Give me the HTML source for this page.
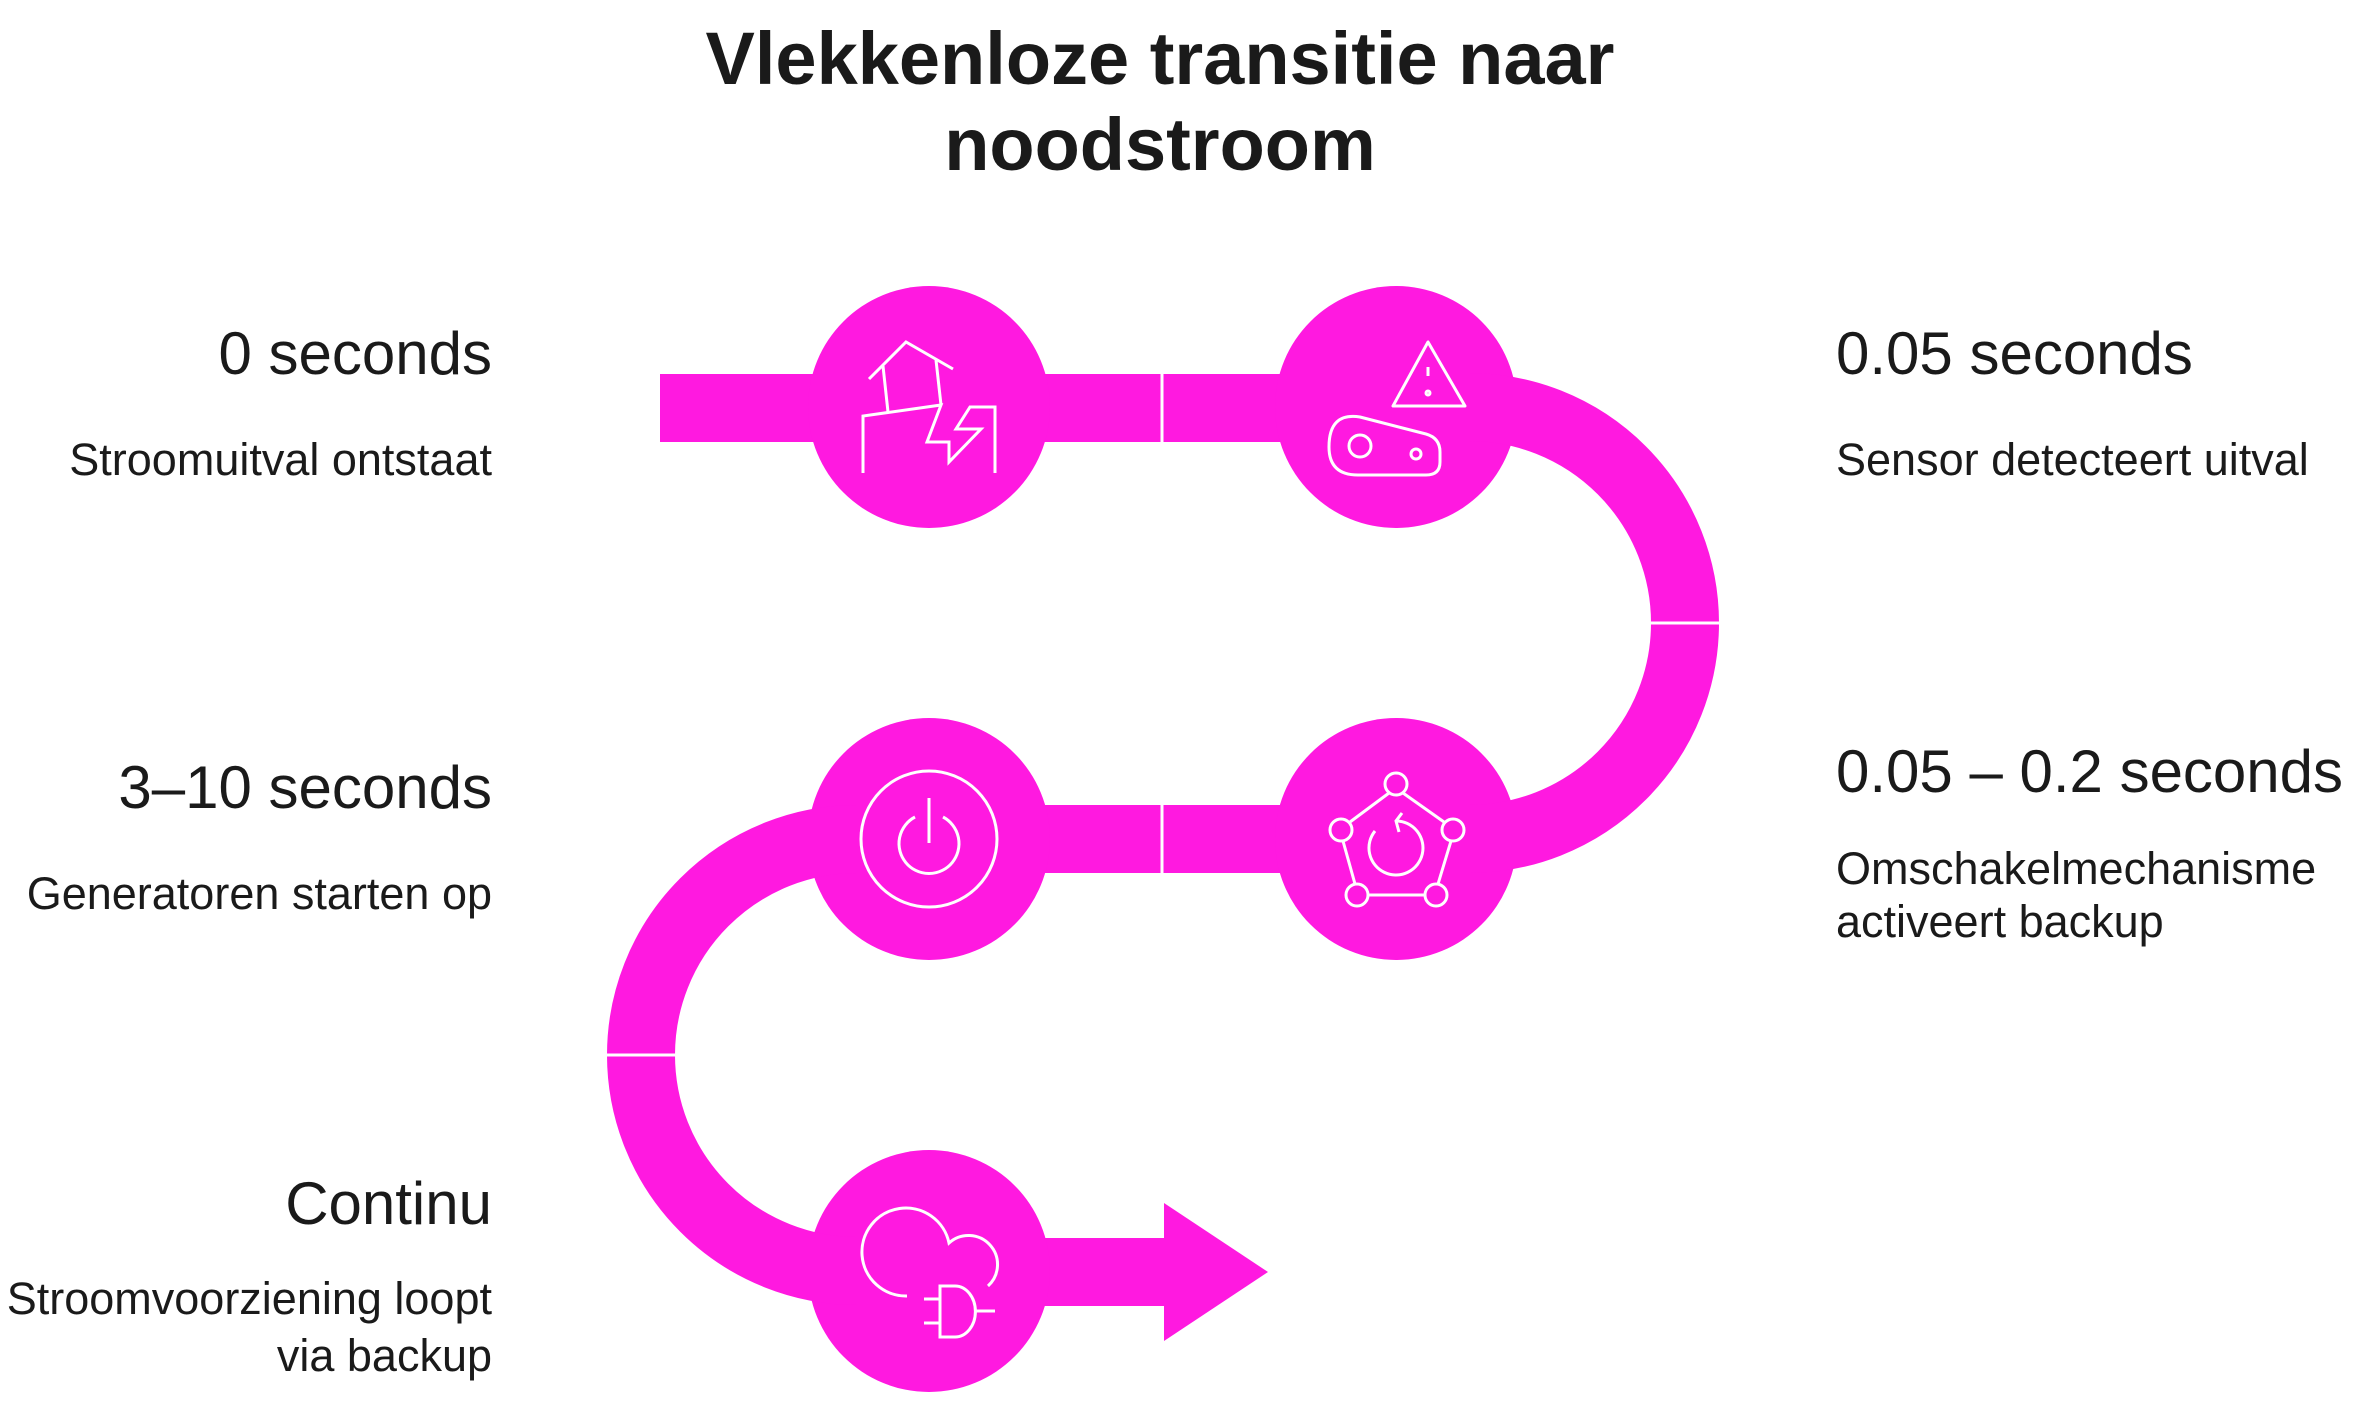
<!DOCTYPE html>
<html><head><meta charset="utf-8"><style>
html,body{margin:0;padding:0;background:#fff;}
body{width:2356px;height:1410px;overflow:hidden;font-family:"Liberation Sans",Arial,sans-serif;}
</style></head><body>
<svg width="2356" height="1410" viewBox="0 0 2356 1410" xmlns="http://www.w3.org/2000/svg" font-family="Liberation Sans, Arial, sans-serif">
<g fill="#1a1a1a">
<text x="1160" y="84" font-size="74" font-weight="bold" text-anchor="middle">Vlekkenloze transitie naar</text>
<text x="1160" y="170" font-size="74" font-weight="bold" text-anchor="middle">noodstroom</text>
<text x="492" y="374" font-size="60" text-anchor="end">0 seconds</text>
<text x="492" y="475" font-size="45" text-anchor="end">Stroomuitval ontstaat</text>
<text x="1836" y="374" font-size="60">0.05 seconds</text>
<text x="1836" y="475" font-size="45">Sensor detecteert uitval</text>
<text x="492" y="808" font-size="60" text-anchor="end">3–10 seconds</text>
<text x="492" y="909" font-size="45" text-anchor="end">Generatoren starten op</text>
<text x="1836" y="792" font-size="60">0.05 – 0.2 seconds</text>
<text x="1836" y="884" font-size="45">Omschakelmechanisme</text>
<text x="1836" y="937" font-size="45">activeert backup</text>
<text x="492" y="1224" font-size="60" text-anchor="end">Continu</text>
<text x="492" y="1314" font-size="45" text-anchor="end">Stroomvoorziening loopt</text>
<text x="492" y="1371" font-size="45" text-anchor="end">via backup</text>
</g>
<g fill="#ff19e0">
<rect x="660" y="374" width="736" height="68"/>
<rect x="929" y="805" width="467" height="68"/>
<rect x="929" y="1238" width="235" height="68"/>
<polygon points="1164,1203 1268,1272 1164,1341"/>
<circle cx="929" cy="407" r="121"/>
<circle cx="1396" cy="407" r="121"/>
<circle cx="929" cy="839" r="121"/>
<circle cx="1396" cy="839" r="121"/>
<circle cx="929" cy="1271" r="121"/>
</g>
<g fill="none" stroke="#ff19e0" stroke-width="68">
<path d="M1469,407 A216,216 0 0 1 1469,839"/>
<path d="M857,839 A216,216 0 0 0 857,1271"/>
</g>
<g stroke="#fff" stroke-width="3" fill="none">
<line x1="1162" y1="372" x2="1162" y2="444"/>
<line x1="1162" y1="803" x2="1162" y2="875"/>
<line x1="1649" y1="623" x2="1721" y2="623"/>
<line x1="606" y1="1055" x2="676" y2="1055"/>
<polyline points="869,379 906,342 953,369"/>
<line x1="883" y1="366" x2="888" y2="412"/>
<line x1="936" y1="360" x2="941" y2="405"/>
<polyline points="863,473 863,416 941,405 927,442 949,442 949,462 981,429 956,429 970,407 995,407 995,473"/>
<path d="M1428,342 L1393,406 L1465,406 Z" stroke-linejoin="round"/>
<line x1="1428" y1="367" x2="1428" y2="376"/>
<circle cx="1428" cy="393" r="2"/>
<path d="M1360,417 L1426,434 Q1440,438 1440,452 L1440,462 Q1440,475 1426,475 L1358,475 Q1329,475 1329,447 Q1329,412 1360,417 Z"/>
<circle cx="1360" cy="446" r="11"/>
<circle cx="1416" cy="454" r="5"/>
<circle cx="929" cy="839" r="68"/>
<path d="M915,817 A30,30 0 1 0 943,817"/>
<line x1="929" y1="798" x2="929" y2="843"/>
<circle cx="1396" cy="784" r="11"/>
<circle cx="1341" cy="830" r="11"/>
<circle cx="1453" cy="830" r="11"/>
<circle cx="1357" cy="895" r="11"/>
<circle cx="1436" cy="895" r="11"/>
<line x1="1389" y1="793" x2="1350" y2="822"/>
<line x1="1403" y1="793" x2="1444" y2="822"/>
<line x1="1343" y1="841" x2="1355" y2="884"/>
<line x1="1451" y1="841" x2="1438" y2="884"/>
<line x1="1368" y1="895" x2="1425" y2="895"/>
<path d="M1375,831 A27,27 0 1 0 1396,821"/>
<polyline points="1402,813 1396,821 1399,832"/>
<path d="M907,1296 A44,44 0 1 1 949,1243 A26,26 0 0 1 988,1286"/>
<path d="M940,1286 L955,1286 A20,25 0 0 1 955,1337 L940,1337 Z"/>
<line x1="924" y1="1299" x2="940" y2="1299"/>
<line x1="924" y1="1323" x2="940" y2="1323"/>
<line x1="975" y1="1311" x2="995" y2="1311"/>
</g>
</svg>
</body></html>
